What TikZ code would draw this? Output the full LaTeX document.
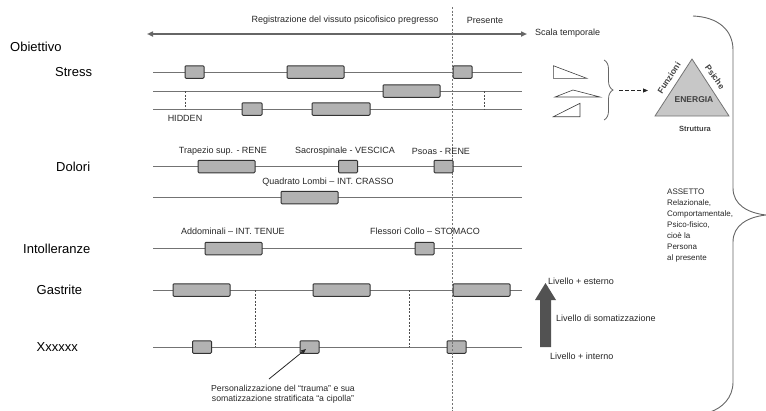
\documentclass[tikz,border=0pt]{standalone}
\usepackage{fontspec}
\setmainfont{Liberation Sans}
\usetikzlibrary{arrows.meta,decorations.pathreplacing}
\begin{document}
\begin{tikzpicture}[x=1pt,y=-1pt,
  tbox/.style={draw=black!80,fill=black!30,line width=1pt,rounded corners=1pt,inner sep=0pt,minimum height=12.5pt},
  tline/.style={draw=black!55,line width=0.9pt},
  vdash/.style={draw=black!70,line width=0.7pt,dash pattern=on 2pt off 1.5pt},
  big/.style={font=\fontsize{13}{15}\selectfont,anchor=west,inner sep=0pt},
  small/.style={font=\fontsize{9}{10}\selectfont,inner sep=0pt,text=black!85},
  tri/.style={draw=black!75,line width=0.6pt,fill=white},
  tlab/.style={font=\fontsize{8.5}{10}\selectfont\bfseries,inner sep=0pt,text=black!75},
]
\useasboundingbox (0,0) rectangle (766,410);

% ---------- time axis ----------
\coordinate (axl) at (147,34);
\coordinate (axr) at (527,34);
\draw[black!60,line width=1.5pt,{Triangle[length=6pt,width=5pt]}-{Triangle[length=6pt,width=5pt]}] (axl) -- (axr);
\node[small] (reg) at (345,20) {Registrazione del vissuto psicofisico pregresso};
\node[small] (pres) at (485,20) {Presente};
\node[small,anchor=west] (scala) at (535,33) {Scala temporale};

% present line
\coordinate (pt) at (452,7);
\coordinate (pb) at (452,412);
\draw[black!55,line width=0.9pt,dash pattern=on 2pt off 1.6pt] (pt) -- (pb);

% ---------- row labels ----------
\node[big] (obi) at (10,47) {Obiettivo};
\node[big] (stress) at (55,72) {Stress};
\node[big] (dolori) at (56,166.5) {Dolori};
\node[big] (intol) at (23,248.5) {Intolleranze};
\node[big] (gast) at (36.5,290) {Gastrite};
\node[big] (xx) at (36.5,347) {Xxxxxx};

% ---------- timelines ----------
\foreach \n/\yy in {a/72,b/91,c/109,d/166.5,e/197.5,f/248.5,g/290,h/347}{
  \coordinate (l\n) at (153,\yy);
  \coordinate (r\n) at (522,\yy);
  \draw[tline] (l\n) -- (r\n);
}

% dashed connectors
\coordinate (h1t) at (185,91);   \coordinate (h1b) at (185,109);
\coordinate (h2t) at (484,91);   \coordinate (h2b) at (484,109);
\coordinate (g1t) at (255.6,290); \coordinate (g1b) at (255.6,347);
\coordinate (g2t) at (409,290);  \coordinate (g2b) at (409,347);
\draw[vdash] (h1t) -- (h1b);
\draw[vdash] (h2t) -- (h2b);
\draw[vdash] (g1t) -- (g1b);
\draw[vdash] (g2t) -- (g2b);
\node[small] (hidden) at (185,118) {HIDDEN};

% ---------- boxes ----------
% Stress
\node[tbox,minimum width=19pt] (sa1) at (194.5,72) {};
\node[tbox,minimum width=57pt] (sa2) at (315.5,72) {};
\node[tbox,minimum width=19pt] (sa3) at (462.5,72) {};
\node[tbox,minimum width=57pt] (sb1) at (411.5,91) {};
\node[tbox,minimum width=20pt] (sc1) at (252,109) {};
\node[tbox,minimum width=58pt] (sc2) at (341,109) {};
% Dolori
\node[tbox,minimum width=57pt] (d1) at (226.5,166.5) {};
\node[tbox,minimum width=19pt] (d2) at (348,166.5) {};
\node[tbox,minimum width=19pt] (d3) at (443.5,166.5) {};
\node[tbox,minimum width=57pt] (d4) at (309.5,197.5) {};
% Intolleranze
\node[tbox,minimum width=57pt] (i1) at (233.5,248.5) {};
\node[tbox,minimum width=19pt] (i2) at (424.5,248.5) {};
% Gastrite
\node[tbox,minimum width=57pt] (ga1) at (201.5,290) {};
\node[tbox,minimum width=57pt] (ga2) at (341.5,290) {};
\node[tbox,minimum width=57pt] (ga3) at (481.5,290) {};
% Xxxxxx
\node[tbox,minimum width=19pt] (x1) at (202,347) {};
\node[tbox,minimum width=19pt] (x2) at (309.5,347) {};
\node[tbox,minimum width=19pt] (x3) at (456.5,347) {};
% present line over the boxes it crosses
\draw[black!55,line width=0.9pt,dash pattern=on 2pt off 1.6pt] (pt) -- (pb);

% ---------- box labels ----------
\node[small] (lt1) at (223,151) {Trapezio sup. - RENE};
\node[small] (lt2) at (345,151) {Sacrospinale - VESCICA};
\node[small] (lt3) at (441,151) {Psoas - RENE};
\node[small] (lt4) at (328,182.5) {Quadrato Lombi -- INT. CRASSO};
\node[small] (lt5) at (233,231.5) {Addominali -- INT. TENUE};
\node[small] (lt6) at (425,231.5) {Flessori Collo -- STOMACO};

% annotation
\node[small,align=center,font=\fontsize{8.7}{10}\selectfont] (ann) at (283,394.5) {Personalizzazione del “trauma” e sua\\somatizzazione stratificata “a cipolla”};
\coordinate (annp) at (269,379);
\draw[black!85,line width=0.8pt,-{Triangle[length=5pt,width=4pt]}] (annp) -- (306,349);

% ---------- level arrow ----------
\coordinate (lva) at (545.5,283);
\fill[black!68] (540,347) -- (540,300) -- (535,300) -- (lva) -- (556,300) -- (551,300) -- (551,347) -- cycle;
\node[small,anchor=west] (lv1) at (548,281.7) {Livello + esterno};
\node[small,anchor=west] (lv2) at (556,318.3) {Livello di somatizzazione};
\node[small,anchor=west] (lv3) at (550,356.7) {Livello + interno};

% ---------- small triangles ----------
\draw[tri] (553.3,65.7) -- (553.3,78.3) -- (586.7,78.3) -- cycle;
\draw[tri] (555,97) -- (573,90) -- (600,97) -- cycle;
\draw[tri] (553.3,116.7) -- (580,116.7) -- (580,103.3) -- cycle;

% brace and arrow
\draw[black!60,line width=0.8pt,decorate,decoration={brace,amplitude=9pt}] (604,60) -- (604,120);
\coordinate (bt) at (619,90.5);
\coordinate (tt) at (648,90.5);
\draw[black!85,line width=0.8pt,dash pattern=on 4pt off 2pt,-{Triangle[length=5pt,width=4pt]}] (bt) -- (tt);

% ---------- energy triangle ----------
\coordinate (ea) at (692,59);
\coordinate (el) at (655,116);
\coordinate (er) at (729,116);
\draw[draw=black!55,fill=black!22,line width=0.8pt] (ea) -- (el) -- (er) -- cycle;
\node[tlab] (en) at (694,100) {ENERGIA};
\node[tlab,font=\fontsize{7.5}{9}\selectfont\bfseries] (st) at (695,129) {Struttura};
\node[tlab,rotate=57] (fu) at (669,78) {Funzioni};
\node[tlab,rotate=-55] (ps) at (715,77) {Psiche};

% ---------- big brace ----------
\draw[black!60,line width=0.9pt] (693,16) .. controls (718,17) and (733,30) .. (733,50) -- (733,188) .. controls (733,205) and (748,213) .. (766,215) .. controls (748,217) and (733,225) .. (733,242) -- (733,382) .. controls (733,398) and (722,408) .. (710,412);

\node[small,anchor=north west,align=left,font=\fontsize{8}{11}\selectfont] (ass) at (667,189) {ASSETTO\\Relazionale,\\Comportamentale,\\Psico-fisico,\\cioè la\\Persona\\al presente};

\end{tikzpicture}
\end{document}
